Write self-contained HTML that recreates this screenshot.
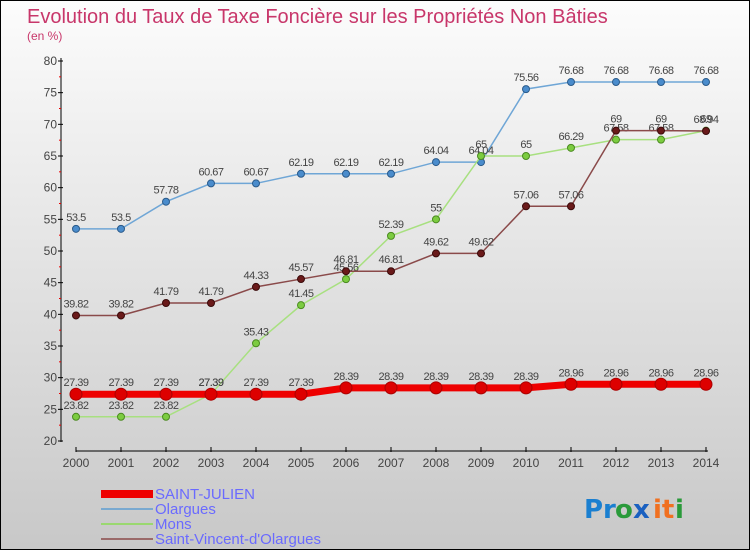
<!DOCTYPE html>
<html><head><meta charset="utf-8"><style>
html,body{margin:0;padding:0}
body{width:750px;height:550px;overflow:hidden;font-family:"Liberation Sans",sans-serif}
#wrap{position:relative;width:748px;height:548px;border:1px solid #000;background:linear-gradient(#fcfcfc,#c8c8c8)}
</style></head><body>
<div id="wrap">
<svg id="chart" width="748" height="548" style="position:absolute;left:0;top:0">
<text x="26" y="22" font-size="20" fill="#c8366a">Evolution du Taux de Taxe Foncière sur les Propriétés Non Bâties</text>
<text x="26" y="39" font-size="12" fill="#c8366a">(en %)</text>
<g id="axes"></g><g id="series"></g>
<g>
<rect x="100" y="489" width="52" height="8" fill="#e00"/>
<text x="154" y="498" font-size="15" fill="#6a6aff">SAINT-JULIEN</text>
<line x1="100" y1="508" x2="152" y2="508" stroke="#79a9d0" stroke-width="2"/>
<text x="154" y="513" font-size="15" fill="#6a6aff">Olargues</text>
<line x1="100" y1="523" x2="152" y2="523" stroke="#9ad870" stroke-width="2"/>
<text x="154" y="528" font-size="15" fill="#6a6aff">Mons</text>
<line x1="100" y1="538" x2="152" y2="538" stroke="#9a6a6a" stroke-width="2"/>
<text x="154" y="543" font-size="15" fill="#6a6aff">Saint-Vincent-d'Olargues</text>
</g>
<g font-size="26" font-family="'DejaVu Sans',sans-serif" font-weight="bold">
<text x="583" y="517" fill="#1a7fd0">Pr</text><text x="614" y="517" fill="#2a9a3a">o</text><text x="632" y="517" fill="#1a60c0">x</text><text x="652" y="517" fill="#f07020">it</text><text x="674" y="517" fill="#2a9a3a">i</text>
</g>
</svg>
</div>
<script>
const years=[2000,2001,2002,2003,2004,2005,2006,2007,2008,2009,2010,2011,2012,2013,2014];
const yTicks=[20,25,30,35,40,45,50,55,60,65,70,75,80];
const saintJulien=[27.39,27.39,27.39,27.39,27.39,27.39,28.39,28.39,28.39,28.39,28.39,28.96,28.96,28.96,28.96];
const olargues=[53.5,53.5,57.78,60.67,60.67,62.19,62.19,62.19,64.04,64.04,75.56,76.68,76.68,76.68,76.68];
const mons=[23.82,23.82,23.82,27.39,35.43,41.45,45.56,52.39,55,65,65,66.29,67.58,67.58,69];
const stVincent=[39.82,39.82,41.79,41.79,44.33,45.57,46.81,46.81,49.62,49.62,57.06,57.06,69,69,68.94];
const NS="http://www.w3.org/2000/svg";
const xS=i=>75+i*45;
const yS=v=>440-(v-20)*(380/60);
function mk(tag,attrs,parent){const e=document.createElementNS(NS,tag);for(const k in attrs)e.setAttribute(k,attrs[k]);parent.appendChild(e);return e;}
const axes=document.getElementById('axes'),ser=document.getElementById('series');
let a=mk('line',{x1:60,y1:57,x2:60,y2:441,stroke:'#000'},axes);


yTicks.forEach((t,i)=>{
  mk('line',{x1:57,x2:62,y1:yS(t),y2:yS(t),stroke:'#000'},axes);
  if(i<yTicks.length-1)mk('line',{x1:58,x2:60,y1:yS(t+2.5),y2:yS(t+2.5),stroke:'#e00'},axes);
  const tx=mk('text',{x:56,y:yS(t)+4,'font-size':12,fill:'#444','text-anchor':'end'},axes);
  tx.textContent=t;
  
  
});
let b=mk('line',{x1:75,y1:450,x2:707,y2:450,stroke:'#000'},axes);


years.forEach((y,i)=>{
  mk('line',{x1:xS(i),x2:xS(i),y1:446,y2:451,stroke:'#000'},axes);
  const tx=mk('text',{x:xS(i),y:466,'font-size':12,fill:'#444','text-anchor':'middle'},axes);
  tx.textContent=y;
  
  
});
function draw(vals,name,color,dot,width,r,dotStroke){
  const g=mk('g',{},ser);
  
  
  const p=mk('polyline',{points:vals.map((v,i)=>xS(i)+','+yS(v)).join(' '),fill:'none',stroke:color,'stroke-width':width},g);
  
  
  vals.forEach((v,i)=>{
    const c=mk('circle',{cx:xS(i),cy:yS(v),r:r,fill:dot,stroke:dotStroke,'stroke-width':1},g);
    
    
    const t=mk('text',{x:xS(i),y:yS(v)-8,'font-size':11,fill:'#444','text-anchor':'middle','letter-spacing':'-0.5'},g);
    t.textContent=String(v);
    
    
  });
}
draw(olargues,'olargues','#6fa6d6','#4a8ccc',1.5,3.5,'#2a5a8a');
draw(mons,'mons','#a8e080','#7ccc40',1.5,3.5,'#4a8a20');
draw(stVincent,'saint-vincent','#8a4a4a','#6a1a1a',1.5,3.5,'#3a0a0a');
draw(saintJulien,'saint-julien','#ee0000','#dd0000',7,6,'#aa0000');
</script>
</body></html>
